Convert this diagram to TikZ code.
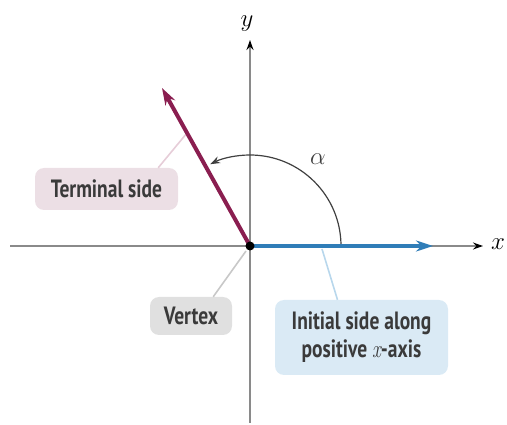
\documentclass[tikz,border=0pt]{standalone}
\usepackage{graphicx}
\usepackage{fontspec}
\newfontfamily\labfont{PT Sans}
\newfontfamily\lmitfont{Latin Modern Roman}
\usetikzlibrary{arrows.meta}
\definecolor{termc}{HTML}{8A1E50}
\definecolor{initc}{HTML}{2F7DB8}
\definecolor{pinkbox}{HTML}{ECDFE5}
\definecolor{graybox}{HTML}{E0E0E0}
\definecolor{bluebox}{HTML}{DAEAF5}
\definecolor{pinkln}{HTML}{E6CDD8}
\definecolor{grayln}{HTML}{C8C8C8}
\definecolor{blueln}{HTML}{B8D7EC}
\definecolor{axisc}{HTML}{8A8A8A}
\definecolor{txtc}{HTML}{3A3A3A}
\newcommand\cnd[1]{\scalebox{0.78}[1]{#1}}
\tikzset{
  axisline/.style={draw=axisc, line width=1.6pt, -{Stealth[length=10pt,width=7pt,color=black]}},
  sideline/.style={line width=4pt, -{Stealth[length=17pt,width=11pt]}},
  labelbox/.style={rounded corners=9pt, inner sep=0pt, text=txtc, font=\labfont\bfseries\fontsize{25}{31}\selectfont, align=center},
  leader/.style={line width=1.6pt},
  mathlab/.style={font=\fontsize{25}{28}\selectfont, inner sep=0pt}
}
\begin{document}
\begin{tikzpicture}[x=1pt,y=-1pt]
\useasboundingbox (0,0) rectangle (507,425);
\coordinate (O) at (250,246);
\coordinate (xl) at (10,246);
\coordinate (xr) at (483,246);
\coordinate (yb) at (250,423);
\coordinate (yt) at (250,40);
\coordinate (T) at (162,88);
\coordinate (I) at (433,246);
\coordinate (tlead) at (187,133);
\coordinate (ilead) at (322,249);
\coordinate (vlead) at (246,251);

% boxes and leaders
\node[labelbox, fill=pinkbox, minimum width=143pt, minimum height=42pt] (tbox) at (106.5,189) {\cnd{Terminal side}};
\node[labelbox, fill=graybox, minimum width=82pt, minimum height=38pt] (vbox) at (191,316) {\cnd{Vertex}};
\node[labelbox, fill=bluebox, minimum width=173pt, minimum height=75pt] (ibox) at (361.5,337.5) {\cnd{Initial side along}\\[-3pt]\cnd{positive {\lmitfont\mdseries\itshape x}-axis}};
\draw[leader, pinkln] (tbox.north east) ++(-20,0) coordinate (tb) -- (tlead);
\draw[leader, grayln] (vbox.north east) ++(-19,0) coordinate (vb) -- (vlead);
\draw[leader, blueln] (ibox.north) ++(-24,0) coordinate (ib) -- (ilead);

% axes
\draw[axisline] (xl) -- (xr);
\draw[axisline] (yb) -- (yt);
\node[mathlab] (xlab) at (498,244) {$x$};
\node[mathlab] (ylab) at (247,24) {$y$};

% angle arc
\draw[line width=1.2pt, draw=black!75, -{Stealth[length=10pt,width=7pt]}] (341,246) arc[start angle=0, end angle=-116, radius=91];
\node[mathlab, text=black!75] (alpha) at (318,159) {$\alpha$};

% sides
\draw[sideline, initc] (O) -- (I);
\draw[sideline, termc] (O) -- (T);
\fill[black] (O) circle[radius=4.5pt];
\end{tikzpicture}
\end{document}
